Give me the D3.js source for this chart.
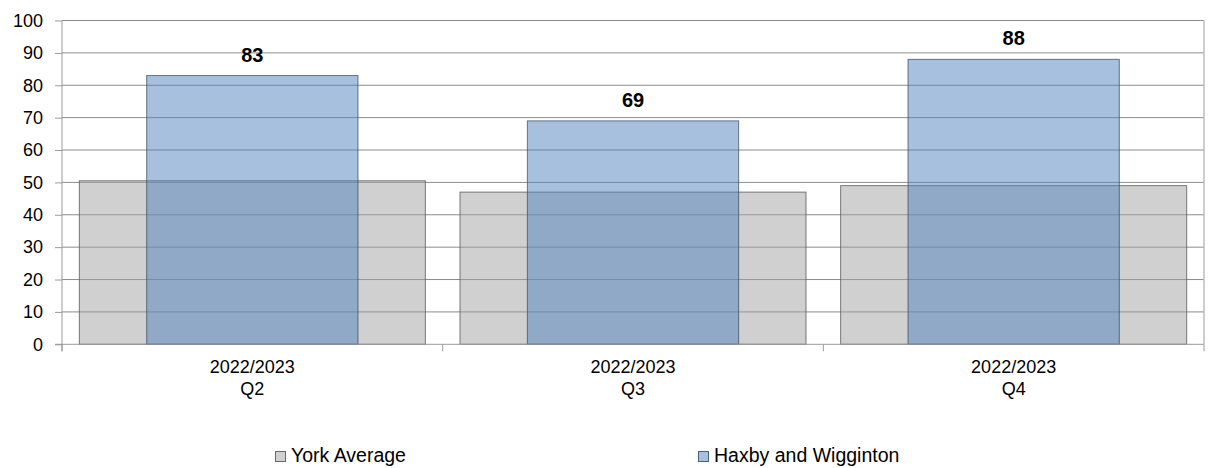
<!DOCTYPE html>
<html><head><meta charset="utf-8">
<script src="https://cdn.jsdelivr.net/npm/d3@7"></script>
<style>body{margin:0;background:#fff}svg{display:block;font-family:"Liberation Sans",Arial,sans-serif}</style>
</head><body><svg id="c" width="1208" height="468"></svg>
<script>
const categories = [["2022/2023","Q2"],["2022/2023","Q3"],["2022/2023","Q4"]];
const yorkAverage = [50.5, 47, 49];
const haxby = [83, 69, 88];
const yTicks = [0,10,20,30,40,50,60,70,80,90,100];
const seriesNames = ["York Average","Haxby and Wigginton"];

const svg = d3.select("#c");
const L = 62, R = 1204, T = 20.5, B = 344.3;
const x = d3.scaleBand().domain(d3.range(categories.length)).range([L, R]);
const y = d3.scaleLinear().domain([0,100]).range([B, T]);

// gridlines
svg.append("g").selectAll("line").data(yTicks.filter(d=>d>0)).join("line")
  .attr("x1", L).attr("x2", R).attr("y1", d=>y(d)).attr("y2", d=>y(d))
  .attr("stroke", "#8c8c8c").attr("stroke-width", 1);
// right border
svg.append("line").attr("x1", R).attr("x2", R).attr("y1", T).attr("y2", B)
  .attr("stroke", "#bdbdbd").attr("stroke-width", 1.5);

const bw = x.bandwidth();
const yorkW = bw * 0.909, haxW = bw * 0.555;
svg.append("g").selectAll("rect").data(yorkAverage).join("rect")
  .attr("x", (d,i)=>x(i) + (bw-yorkW)/2).attr("width", yorkW)
  .attr("y", d=>y(d)).attr("height", d=>B - y(d))
  .attr("fill", "rgb(161,161,161)").attr("fill-opacity", 0.5)
  .attr("stroke", "#5a5a5a").attr("stroke-opacity", 0.8).attr("stroke-width", 1);
svg.append("g").selectAll("rect").data(haxby).join("rect")
  .attr("x", (d,i)=>x(i) + (bw-haxW)/2).attr("width", haxW)
  .attr("y", d=>y(d)).attr("height", d=>B - y(d))
  .attr("fill", "#4f81bd").attr("fill-opacity", 0.5)
  .attr("stroke", "#3a4f6a").attr("stroke-opacity", 0.75).attr("stroke-width", 1);

// data labels
svg.append("g").selectAll("text").data(haxby).join("text")
  .attr("x", (d,i)=>x(i) + bw/2).attr("y", d=>y(d) - 14)
  .attr("text-anchor", "middle").attr("font-size", 20).attr("font-weight", "bold")
  .text(d=>d);

// y axis
const ya = d3.axisLeft(y).tickValues(yTicks).tickSize(7).tickPadding(12);
const gy = svg.append("g").attr("transform", `translate(${L},0)`).call(ya);
gy.select(".domain").attr("stroke", "#9a9a9a").attr("d", `M0,${T}V${B+7}`);
gy.selectAll(".tick line").attr("stroke", "#9a9a9a");
gy.selectAll("text").attr("font-size", 18).attr("fill", "#000")
  .attr("font-family", "Liberation Sans, Arial, sans-serif");

// x axis
svg.append("line").attr("x1", L-7).attr("x2", R).attr("y1", B).attr("y2", B)
  .attr("stroke", "#9a9a9a");
svg.append("g").selectAll("line").data(d3.range(categories.length+1)).join("line")
  .attr("x1", i=> i<categories.length ? x(i) : R).attr("x2", i=> i<categories.length ? x(i) : R)
  .attr("y1", B).attr("y2", B+7).attr("stroke", "#9a9a9a");
const xl = svg.append("g").selectAll("text").data(categories).join("text")
  .attr("x", (d,i)=>x(i)+bw/2).attr("y", 373).attr("text-anchor","middle")
  .attr("font-size", 18);
xl.append("tspan").attr("x", (d,i)=>x(i)+bw/2).text(d=>d[0]);
xl.append("tspan").attr("x", (d,i)=>x(i)+bw/2).attr("dy", 22).text(d=>d[1]);

// legend
const legX = [275, 698];
const legFill = [["rgb(161,161,161)",0.5,"#6a6a6a"],["#4f81bd",0.5,"#4a5f7a"]];
seriesNames.forEach((n,i)=>{
  svg.append("rect").attr("x", legX[i]+0.5).attr("y", 451.5).attr("width", 10).attr("height", 10)
    .attr("fill", legFill[i][0]).attr("fill-opacity", legFill[i][1]).attr("stroke", legFill[i][2]);
  svg.append("text").attr("x", legX[i]+16).attr("y", 462).attr("font-size", 19.5).text(n);
});
</script></body></html>
